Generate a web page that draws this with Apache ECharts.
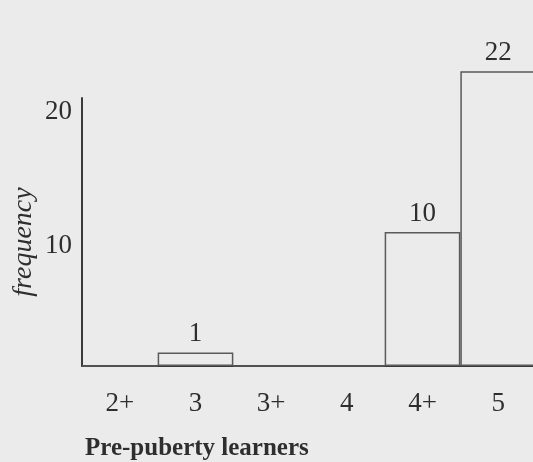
<!DOCTYPE html>
<html>
<head>
<meta charset="utf-8">
<title>Pre-puberty learners</title>
<script src="https://cdn.jsdelivr.net/npm/echarts@6/dist/echarts.min.js"></script>
<style>
    html, body { margin: 0; padding: 0; background: #ebebeb; }
    #chart { width: 533px; height: 462px; }
</style>
</head>
<body>
<div id="chart"></div>
<script>
// data
var categories = ['2+', '3', '3+', '4', '4+', '5'];
var frequencies = [0, 1, 0, 0, 10, 22];
var yTicks = [10, 20];

var serif = '"Liberation Serif", "DejaVu Serif", serif';
var inkColor = '#2e2e2e';

var myChart = echarts.init(document.getElementById('chart'));

var option = {
    backgroundColor: '#ebebeb',
    animation: false,
    title: {
        text: 'Pre-puberty learners',
        left: 85,
        top: 436,
        padding: 0,
        textStyle: {
            fontFamily: serif,
            fontSize: 25,
            fontWeight: 'bold',
            color: inkColor
        }
    },
    grid: {
        left: 82,
        right: -3,
        top: 98,
        bottom: 96,
        containLabel: false,
        outerBoundsMode: 'none'
    },
    xAxis: {
        type: 'category',
        data: categories,
        axisLine: { lineStyle: { color: '#3a3a3a', width: 2 } },
        axisTick: { show: false },
        axisLabel: {
            margin: 24,
            fontFamily: serif,
            fontSize: 27,
            color: inkColor
        }
    },
    yAxis: {
        type: 'value',
        min: 0,
        max: yTicks[yTicks.length - 1],
        interval: yTicks[0],
        name: 'frequency',
        nameLocation: 'middle',
        nameRotate: 90,
        nameGap: 44,
        nameMoveOverlap: false,
        nameTextStyle: {
            fontFamily: serif,
            fontSize: 28,
            fontStyle: 'italic',
            color: inkColor,
            padding: [0, 20, 0, 0]
        },
        axisLine: { show: true, lineStyle: { color: '#3a3a3a', width: 2 } },
        axisTick: { show: false },
        splitLine: { show: false },
        axisLabel: {
            margin: 10,
            verticalAlign: 'top',
            fontFamily: serif,
            fontSize: 27,
            color: inkColor,
            formatter: function (value) {
                // only the ticks that are printed on the picture
                return yTicks.indexOf(value) >= 0 ? String(value) : '';
            }
        }
    },
    series: [{
        type: 'bar',
        data: frequencies,
        barWidth: '100%',
        clip: false,
        itemStyle: {
            color: 'rgba(0,0,0,0)',
            borderColor: '#5a5a5a',
            borderWidth: 1.5
        },
        label: {
            show: true,
            position: 'top',
            distance: 5,
            fontFamily: serif,
            fontSize: 27,
            color: inkColor,
            formatter: function (p) {
                return p.value > 0 ? String(p.value) : '';
            }
        }
    }]
};

myChart.setOption(option);
</script>
</body>
</html>
